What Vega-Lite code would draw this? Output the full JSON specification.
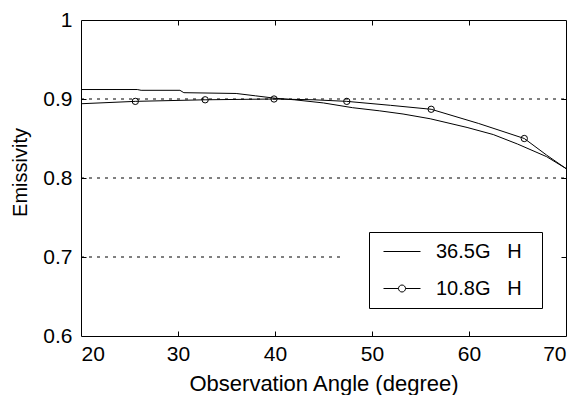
{
  "$schema": "https://vega.github.io/schema/vega-lite/v6.json",
  "width": 485,
  "height": 316,
  "autosize": "none",
  "padding": {"left": 81, "top": 20, "right": 14, "bottom": 59},
  "background": "white",
  "config": {
    "view": {"stroke": "black", "strokeWidth": 1},
    "font": "Liberation Sans",
    "axis": {
      "domain": false,
      "grid": false,
      "tickColor": "black",
      "tickSize": 5,
      "tickWidth": 1,
      "labelColor": "black",
      "titleColor": "black",
      "labelFont": "Liberation Sans",
      "titleFont": "Liberation Sans",
      "labelFontSize": 21,
      "titleFontSize": 21,
      "titleFontWeight": "normal"
    }
  },
  "datasets": {
    "grid": [
      {"y": 0.9, "x1": 20, "x2": 70},
      {"y": 0.8, "x1": 20, "x2": 70},
      {"y": 0.7, "x1": 20, "x2": 46.7}
    ],
    "curves": [
      {"series": "36.5G H", "angle": 20, "emis": 0.912},
      {"series": "36.5G H", "angle": 25.8, "emis": 0.912},
      {"series": "36.5G H", "angle": 26.2, "emis": 0.911},
      {"series": "36.5G H", "angle": 30.2, "emis": 0.911},
      {"series": "36.5G H", "angle": 30.6, "emis": 0.908},
      {"series": "36.5G H", "angle": 36, "emis": 0.907},
      {"series": "36.5G H", "angle": 38, "emis": 0.904},
      {"series": "36.5G H", "angle": 40, "emis": 0.901},
      {"series": "36.5G H", "angle": 42, "emis": 0.899},
      {"series": "36.5G H", "angle": 45, "emis": 0.895},
      {"series": "36.5G H", "angle": 48, "emis": 0.889},
      {"series": "36.5G H", "angle": 50.8, "emis": 0.885},
      {"series": "36.5G H", "angle": 53.2, "emis": 0.881},
      {"series": "36.5G H", "angle": 56, "emis": 0.875},
      {"series": "36.5G H", "angle": 59.8, "emis": 0.864},
      {"series": "36.5G H", "angle": 62.5, "emis": 0.855},
      {"series": "36.5G H", "angle": 65, "emis": 0.843},
      {"series": "36.5G H", "angle": 68, "emis": 0.827},
      {"series": "36.5G H", "angle": 70, "emis": 0.812},
      {"series": "10.8G H", "angle": 20, "emis": 0.894},
      {"series": "10.8G H", "angle": 25.6, "emis": 0.897},
      {"series": "10.8G H", "angle": 32.8, "emis": 0.899},
      {"series": "10.8G H", "angle": 39.9, "emis": 0.9},
      {"series": "10.8G H", "angle": 44, "emis": 0.899},
      {"series": "10.8G H", "angle": 47.4, "emis": 0.897},
      {"series": "10.8G H", "angle": 51.9, "emis": 0.892},
      {"series": "10.8G H", "angle": 56.1, "emis": 0.887},
      {"series": "10.8G H", "angle": 61, "emis": 0.869},
      {"series": "10.8G H", "angle": 65.7, "emis": 0.85},
      {"series": "10.8G H", "angle": 68, "emis": 0.829},
      {"series": "10.8G H", "angle": 70, "emis": 0.812}
    ],
    "markers": [
      {"series": "10.8G H", "angle": 25.6, "emis": 0.897},
      {"series": "10.8G H", "angle": 32.8, "emis": 0.899},
      {"series": "10.8G H", "angle": 39.9, "emis": 0.9},
      {"series": "10.8G H", "angle": 47.4, "emis": 0.897},
      {"series": "10.8G H", "angle": 56.1, "emis": 0.887},
      {"series": "10.8G H", "angle": 65.7, "emis": 0.85}
    ]
  },
  "resolve": {"axis": {"x": "independent", "y": "independent"}},
  "layer": [
    {
      "data": {"name": "grid"},
      "mark": {"type": "rule", "color": "black", "strokeWidth": 1, "strokeDash": [3, 5]},
      "encoding": {
        "x": {
          "field": "x1", "type": "quantitative",
          "scale": {"domain": [20, 70], "nice": false, "zero": false},
          "axis": {"orient": "bottom", "values": [20, 30, 40, 50, 60, 70], "format": "d", "ticks": false, "labelPadding": 7, "title": "Observation Angle (degree)", "titlePadding": 9, "titleFontSize": 22}
        },
        "x2": {"field": "x2"},
        "y": {
          "field": "y", "type": "quantitative",
          "scale": {"domain": [0.6, 1], "nice": false, "zero": false},
          "axis": {"orient": "left", "values": [0.6, 0.7, 0.8, 0.9, 1], "format": "~g", "ticks": false, "labelPadding": 9, "title": "Emissivity", "titlePadding": 12, "titleY": 152, "titleFontSize": 20}
        }
      }
    },
    {
      "data": {"name": "curves"},
      "mark": {"type": "line", "strokeWidth": 1, "interpolate": "linear"},
      "encoding": {
        "x": {
          "field": "angle", "type": "quantitative",
          "axis": {"orient": "top", "offset": -316, "values": [30, 40, 50, 60], "labels": false, "title": null}
        },
        "y": {
          "field": "emis", "type": "quantitative",
          "axis": {"orient": "right", "offset": -485, "values": [0.7, 0.8, 0.9], "labels": false, "title": null}
        },
        "stroke": {
          "field": "series", "type": "nominal",
          "scale": {"domain": ["36.5G H", "10.8G H"], "range": ["black", "black"]},
          "legend": {
            "title": null,
            "orient": "none",
            "legendX": 288,
            "legendY": 212,
            "direction": "vertical",
            "strokeColor": "black",
            "fillColor": "white",
            "padding": 9,
            "rowPadding": 16,
            "labelFont": "Liberation Sans",
            "labelFontSize": 20,
            "labelColor": "black",
            "labelOffset": 37,
            "symbolSize": 400,
            "symbolStrokeWidth": 1,
            "symbolStrokeColor": "black",
            "labelExpr": "replace(datum.label, ' ', '\u00a0\u00a0\u00a0') + '\u00a0\u00a0\u200b'",
            "encode": {
              "symbols": {
                "update": {
                  "shape": {"signal": "datum.value === '10.8G H' ? 'M-0.5,0H1.0A0.35,0.35 0 1 1 1.7,0A0.35,0.35 0 1 1 1.0,0M1.7,0H3.2' : 'M-0.5,0H3.2'"},
                  "fill": {"value": "transparent"},
                  "stroke": {"value": "black"}
                }
              }
            }
          }
        },
        "order": {"field": "angle", "type": "quantitative"}
      }
    },
    {
      "data": {"name": "markers"},
      "mark": {"type": "point", "filled": false, "shape": "circle", "size": 40, "color": "black", "strokeWidth": 1, "opacity": 1},
      "encoding": {
        "x": {"field": "angle", "type": "quantitative",
          "axis": {"orient": "bottom", "offset": -316, "values": [30, 40, 50, 60], "labels": false, "title": null}},
        "y": {"field": "emis", "type": "quantitative",
          "axis": {"orient": "left", "offset": -485, "values": [0.7, 0.8, 0.9], "labels": false, "title": null}}
      }
    }
  ]
}
